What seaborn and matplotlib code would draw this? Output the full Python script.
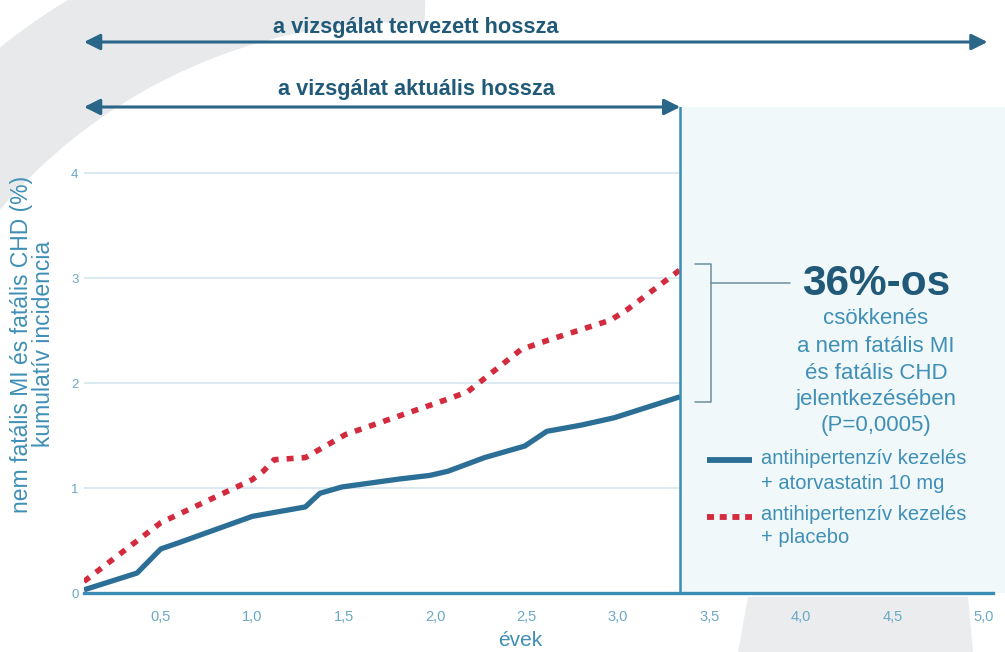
import numpy as np
import pandas as pd
import matplotlib
matplotlib.use("Agg")
import matplotlib.pyplot as plt
from matplotlib.patches import Wedge, Polygon
from matplotlib.transforms import IdentityTransform, blended_transform_factory
import seaborn as sns

# Cumulative incidence (%) of non-fatal MI and fatal CHD over follow-up years
years_statin = [0.08, 0.37, 0.50, 0.60, 1.00, 1.29, 1.37, 1.49, 1.80, 1.97, 2.07, 2.27, 2.49, 2.61, 2.80, 2.98, 3.34]
inc_statin = [0.03, 0.19, 0.42, 0.48, 0.73, 0.82, 0.95, 1.01, 1.085, 1.12, 1.16, 1.29, 1.40, 1.54, 1.60, 1.67, 1.87]

years_placebo = [0.08, 0.50, 1.00, 1.06, 1.12, 1.29, 1.51, 2.09, 2.18, 2.47, 2.62, 2.96, 3.05, 3.34]
inc_placebo = [0.11, 0.67, 1.08, 1.16, 1.27, 1.29, 1.51, 1.86, 1.92, 2.32, 2.41, 2.60, 2.70, 3.08]

x_ticks = [0.5, 1.0, 1.5, 2.0, 2.5, 3.0, 3.5, 4.0, 4.5, 5.0]
x_tick_labels = ["0,5", "1,0", "1,5", "2,0", "2,5", "3,0", "3,5", "4,0", "4,5", "5,0"]
y_ticks = [0, 1, 2, 3, 4]

study_start = 0.08
actual_end = 3.34
planned_end = 5.02

legend_statin = ["antihipertenzív kezelés", "+ atorvastatin 10 mg"]
legend_placebo = ["antihipertenzív kezelés", "+ placebo"]
summary_head = "36%-os"
summary_body = ["csökkenés", "a nem fatális MI", "és fatális CHD", "jelentkezésében", "(P=0,0005)"]

BLUE = "#2c6f96"
RED = "#d42a3e"
TEAL = "#3f8fb6"
DARK = "#215a78"
AXIS = "#3b8db6"
TICK = "#6aa9c6"

W, H = 1005, 652

sns.set_style("white")
plt.rcParams["font.family"] = ["Liberation Sans", "DejaVu Sans"]

fig = plt.figure(figsize=(W / 100, H / 100), dpi=100)
fig.patch.set_facecolor("white")

# soft decorative swooshes in the page background (pixel space, origin bottom-left)
pix = IdentityTransform()
fig.patches.append(Wedge((406, H - 555), 650, 88, 180, width=117, transform=pix,
                         facecolor="#e7e9eb", edgecolor="none", zorder=-2))
fig.patches.append(Polygon([(748, H - 597), (968, H - 597), (973, 0), (738, 0)],
                           closed=True, transform=pix, facecolor="#ebeced",
                           edgecolor="none", zorder=-2))

ax = fig.add_axes([84 / W, 59 / H, (993 - 84) / W, 486 / H])
ax.set_facecolor("none")
ax.set_xlim(study_start, 5.05)
ax.set_ylim(0, 4.63)

# light panel to the right of the actual study end
ax.axvspan(actual_end, 5.3, ymin=0, ymax=1, color="#f0f8fa", zorder=0, clip_on=False, lw=0)

# horizontal guide lines inside the observed period
ax.hlines(y_ticks[1:], study_start, actual_end, color="#d3e6ee", lw=1.2, zorder=1)

df = pd.concat([
    pd.DataFrame({"év": years_statin, "incidencia": inc_statin, "csoport": "statin"}),
    pd.DataFrame({"év": years_placebo, "incidencia": inc_placebo, "csoport": "placebo"}),
])
sns.lineplot(data=df[df["csoport"] == "statin"], x="év", y="incidencia", ax=ax,
             color=BLUE, lw=3.8, zorder=4, legend=False)
ax.lines[-1].set_solid_capstyle("butt")
sns.lineplot(data=df[df["csoport"] == "placebo"], x="év", y="incidencia", ax=ax,
             color=RED, lw=4.0, zorder=3, legend=False)
ax.lines[-1].set_linestyle((0, (1.25, 1.45)))
ax.lines[-1].set_dash_capstyle("butt")

# end of actual study period
ax.axvline(actual_end, ymin=0, ymax=1, color=AXIS, lw=1.8, zorder=5)

# axes styling
for side in ["left", "top", "right"]:
    ax.spines[side].set_visible(False)
ax.spines["bottom"].set_color(AXIS)
ax.spines["bottom"].set_linewidth(2.4)
ax.spines["bottom"].set_zorder(6)
ax.set_xticks(x_ticks)
ax.set_xticklabels(x_tick_labels)
ax.set_yticks(y_ticks)
ax.tick_params(axis="x", direction="out", length=6, width=1.4, color=AXIS,
               labelcolor=TICK, labelsize=10.5, pad=6)
ax.tick_params(axis="y", length=0, labelcolor=TICK, labelsize=9.5, pad=4)
ax.set_xlabel("évek", color=TEAL, fontsize=15)
ax.xaxis.set_label_coords((520 - 84) / (993 - 84), -(640 - 593) / 486)
ax.xaxis.label.set_va("center")
ax.set_ylabel("")
ax.grid(False)

# two-line axis title on the left
fig.text(22 / W, 1 - 344 / H, "nem fatális MI és fatális CHD (%)", rotation=90,
         ha="center", va="center", fontsize=16.5, color=TEAL)
fig.text(43 / W, 1 - 344 / H, "kumulatív incidencia", rotation=90,
         ha="center", va="center", fontsize=16.5, color=TEAL)

# study length arrows above the plot
bt = blended_transform_factory(ax.transData, fig.transFigure)
arrow_kw = dict(arrowstyle="<|-|>", color="#2a6688", lw=2.2, mutation_scale=24,
                shrinkA=0, shrinkB=0)
ax.annotate("", xy=(planned_end, 1 - 42 / H), xytext=(study_start, 1 - 42 / H),
            xycoords=bt, textcoords=bt, arrowprops=arrow_kw, annotation_clip=False)
ax.annotate("", xy=(actual_end, 1 - 107 / H), xytext=(study_start, 1 - 107 / H),
            xycoords=bt, textcoords=bt, arrowprops=arrow_kw, annotation_clip=False)
ax.text(416 / W, 1 - 27 / H, "a vizsgálat tervezett hossza", transform=fig.transFigure,
        ha="center", va="center", fontsize=15.7, fontweight="bold", color=DARK)
ax.text(416 / W, 1 - 90 / H, "a vizsgálat aktuális hossza", transform=fig.transFigure,
        ha="center", va="center", fontsize=15.7, fontweight="bold", color=DARK)

# bracket linking the two curve ends
top_b = inc_placebo[-1] + 0.05
bot_b = inc_statin[-1] - 0.05
bx0, bx1 = 3.42, 3.51
ax.plot([bx0, bx1, bx1, bx0], [top_b, top_b, bot_b, bot_b], color="#6d8f9f", lw=1.1,
        clip_on=False, zorder=5)
ax.plot([bx1, 3.94], [2.95, 2.95], color="#6d8f9f", lw=1.1, clip_on=False, zorder=5)


def py(v):
    """Pixel row (from top) to data y."""
    return (593 - v) / 105


cx = 4.41
ax.text(cx, py(284), summary_head, ha="center", va="center", fontsize=30.5,
        fontweight="bold", color=DARK)
for txt, row in zip(summary_body, [318, 346, 373, 399, 425]):
    ax.text(cx, py(row), txt, ha="center", va="center", fontsize=16, color=TEAL)

# legend
ax.plot([3.484, 3.73], [py(460)] * 2, color=BLUE, lw=4.2, solid_capstyle="butt",
        clip_on=False)
ax.plot([3.484, 3.73], [py(517)] * 2, color=RED, lw=4.2, linestyle=(0, (1.2, 0.98)),
        dash_capstyle="butt", clip_on=False)
for txt, row in zip(legend_statin + legend_placebo, [458, 483, 514, 537]):
    ax.text(3.784, py(row), txt, ha="left", va="center", fontsize=14.5, color=TEAL)

fig.savefig("out.png", dpi=100)
